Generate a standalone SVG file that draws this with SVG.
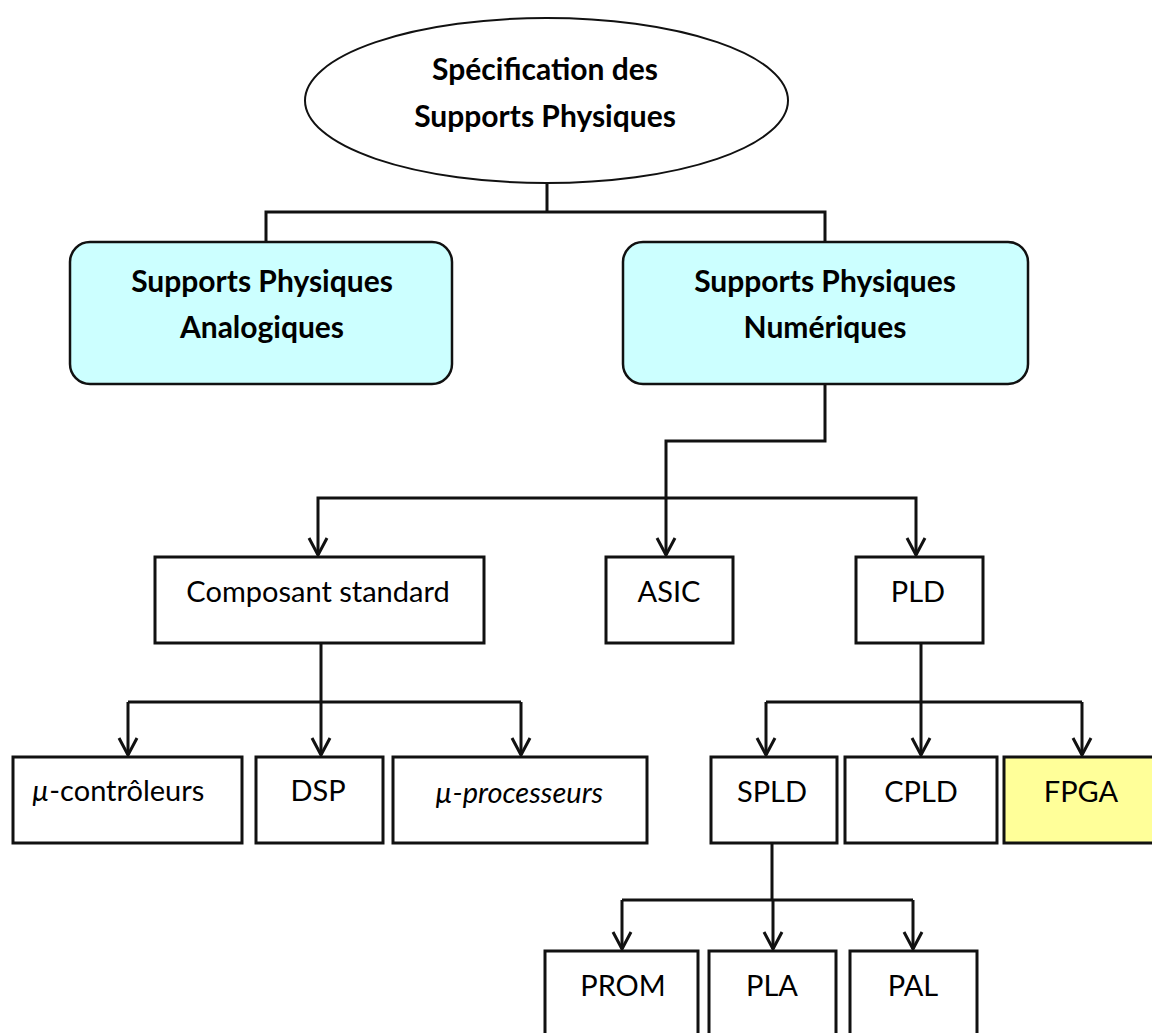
<svg xmlns="http://www.w3.org/2000/svg" width="1152" height="1033" viewBox="0 0 1152 1033">
  <defs>
    <marker id="arrow" markerUnits="userSpaceOnUse" markerWidth="24" markerHeight="24" viewBox="-20 -12 24 24" refX="0" refY="0" orient="auto" overflow="visible">
      <path d="M-17,-9 L0,0 L-17,9" fill="none" stroke="#111" stroke-width="3" stroke-linejoin="miter"/>
    </marker>
    <style>
      .link { fill: none; stroke: #111; stroke-width: 3; }
      .arrowed { marker-end: url(#arrow); }
      .box { fill: #fff; stroke: #111; stroke-width: 3; }
      .cyan { fill: #ccffff; stroke: #111; stroke-width: 2.5; }
      .yellow { fill: #ffff99; stroke: #111; stroke-width: 3; }
      .oval { fill: #fff; stroke: #111; stroke-width: 2; }
      text { font-family: Lato, "Open Sans", sans-serif; fill: #000; text-anchor: middle; }
      .bold { font-weight: bold; font-size: 30px; }
      .reg { font-size: 29px; }
    </style>
  </defs>
  <rect width="1152" height="1033" fill="#fff"/>

  <!-- connectors -->
  <g id="connectors">
    <path class="link" d="M547,183 V212 M266,242 V212 H825 V242"/>
    <path class="link arrowed" d="M825,384 V441 H666 V555"/>
    <path class="link arrowed" d="M666,498 H318 V555"/>
    <path class="link arrowed" d="M666,498 H916 V555"/>
    <path class="link" d="M321,643 V702 H128 M321,702 H521"/>
    <path class="link arrowed" d="M128,702 V755"/>
    <path class="link arrowed" d="M321,702 V755"/>
    <path class="link arrowed" d="M521,702 V755"/>
    <path class="link" d="M921,643 V702 H766 M921,702 H1082"/>
    <path class="link arrowed" d="M766,702 V755"/>
    <path class="link arrowed" d="M921,702 V755"/>
    <path class="link arrowed" d="M1082,702 V755"/>
    <path class="link" d="M772,843 V900 H622 M772,900 H913"/>
    <path class="link arrowed" d="M622,900 V949"/>
    <path class="link arrowed" d="M773,900 V949"/>
    <path class="link arrowed" d="M913,900 V949"/>
  </g>

  <!-- root -->
  <g id="specification">
    <ellipse class="oval" cx="546.5" cy="100.5" rx="241.5" ry="82.5"/>
    <text class="bold" x="545" y="80">Spécification des</text>
    <text class="bold" x="545" y="127">Supports Physiques</text>
  </g>

  <g id="analogiques">
    <rect class="cyan" x="70" y="242" width="382" height="142" rx="20" ry="20"/>
    <text class="bold" x="262" y="292">Supports Physiques</text>
    <text class="bold" x="262" y="338">Analogiques</text>
  </g>

  <g id="numeriques">
    <rect class="cyan" x="623" y="242" width="405" height="142" rx="20" ry="20"/>
    <text class="bold" x="825" y="292">Supports Physiques</text>
    <text class="bold" x="825" y="338">Numériques</text>
  </g>

  <g id="composant">
    <rect class="box" x="155" y="557" width="329" height="86"/>
    <text class="reg" x="318" y="602">Composant standard</text>
  </g>

  <g id="asic">
    <rect class="box" x="606" y="557" width="127" height="86"/>
    <text class="reg" x="669" y="602">ASIC</text>
  </g>

  <g id="pld">
    <rect class="box" x="856" y="557" width="127" height="86"/>
    <text class="reg" x="918" y="602">PLD</text>
  </g>

  <g id="microcontroleurs">
    <rect class="box" x="13" y="757" width="229" height="86"/>
    <text class="reg" x="118" y="801"><tspan font-style="italic">µ</tspan>-contrôleurs</text>
  </g>

  <g id="dsp">
    <rect class="box" x="256" y="757" width="127" height="86"/>
    <text class="reg" x="318" y="801">DSP</text>
  </g>

  <g id="microprocesseurs">
    <rect class="box" x="393" y="757" width="254" height="86"/>
    <text class="reg" x="519" y="803" font-style="italic" font-size="31px">µ-processeurs</text>
  </g>

  <g id="spld">
    <rect class="box" x="711" y="757" width="126" height="86"/>
    <text class="reg" x="772" y="802">SPLD</text>
  </g>

  <g id="cpld">
    <rect class="box" x="845" y="757" width="152" height="86"/>
    <text class="reg" x="921" y="802">CPLD</text>
  </g>

  <g id="fpga">
    <rect class="yellow" x="1004" y="757" width="152" height="86"/>
    <text class="reg" x="1081" y="802">FPGA</text>
  </g>

  <g id="prom">
    <rect class="box" x="545" y="951" width="153" height="90"/>
    <text class="reg" x="623" y="996">PROM</text>
  </g>

  <g id="pla">
    <rect class="box" x="709" y="951" width="127" height="90"/>
    <text class="reg" x="772" y="996">PLA</text>
  </g>

  <g id="pal">
    <rect class="box" x="850" y="951" width="127" height="90"/>
    <text class="reg" x="913" y="996">PAL</text>
  </g>
</svg>
